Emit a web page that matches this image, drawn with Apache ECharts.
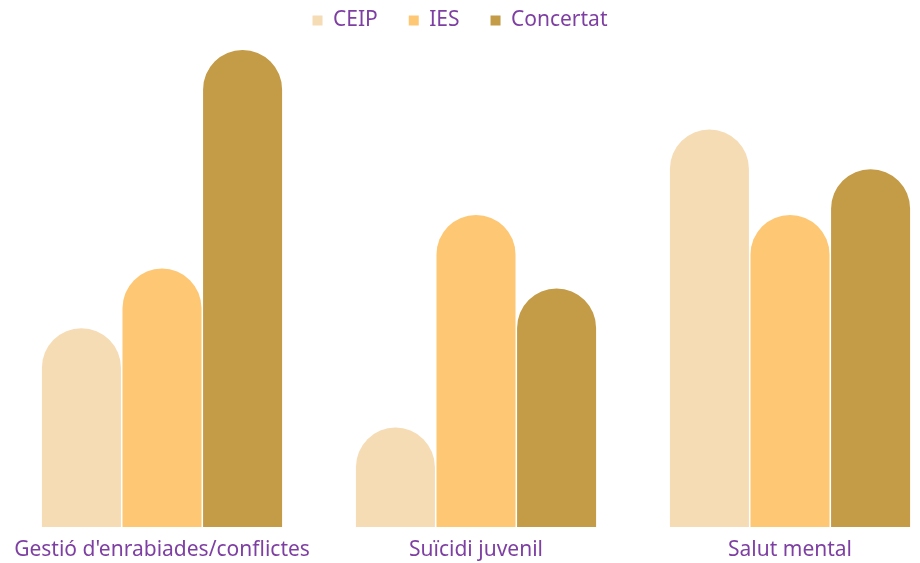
<!DOCTYPE html>
<html>
<head>
<meta charset="utf-8">
<script src="https://cdn.jsdelivr.net/npm/echarts@6/dist/echarts.min.js"></script>
<style>
  html, body { margin: 0; padding: 0; background: #fff; }
  #chart { width: 920px; height: 563px; }
</style>
</head>
<body>
<div id="chart"></div>
<script>
const categories = ['Gestió d\'enrabiades/conflictes', 'Suïcidi juvenil', 'Salut mental']
const seriesNames = ['CEIP', 'IES', 'Concertat']
const ceipValues = [10, 5, 20]
const iesValues = [13, 15.7, 15.7]
const concertatValues = [24, 12, 18]

const colors = ['#F5DCB4', '#FEC773', '#C49B46']
const textColor = '#7E3FA3'
const fontFamily = '"Noto Sans", sans-serif'

const chart = echarts.init(document.getElementById('chart'))

const makeSeries = (name, data, color) => ({
  name: name,
  type: 'bar',
  data: data,
  barWidth: 79,
  barGap: '2%',
  itemStyle: { color: color, borderRadius: [40, 40, 0, 0] }
})

const option = {
  animation: false,
  color: colors,
  legend: {
    top: 5,
    left: 'center',
    icon: 'rect',
    itemWidth: 10,
    itemHeight: 10,
    itemGap: 31,
    formatter: (name) => ' ' + name,
    textStyle: { color: textColor, fontSize: 21, fontFamily: fontFamily },
    data: seriesNames
  },
  grid: { left: 5, width: 942, top: 30, bottom: 36, containLabel: false, outerBoundsMode: 'none' },
  xAxis: {
    type: 'category',
    data: categories,
    axisLine: { show: false },
    axisTick: { show: false },
    axisLabel: { color: textColor, fontSize: 21, fontFamily: fontFamily, margin: 13, interval: 0 }
  },
  yAxis: {
    type: 'value',
    min: 0,
    max: 25,
    show: false,
    splitLine: { show: false }
  },
  series: [
    makeSeries(seriesNames[0], ceipValues, colors[0]),
    makeSeries(seriesNames[1], iesValues, colors[1]),
    makeSeries(seriesNames[2], concertatValues, colors[2])
  ]
}

chart.setOption(option)
</script>
</body>
</html>
